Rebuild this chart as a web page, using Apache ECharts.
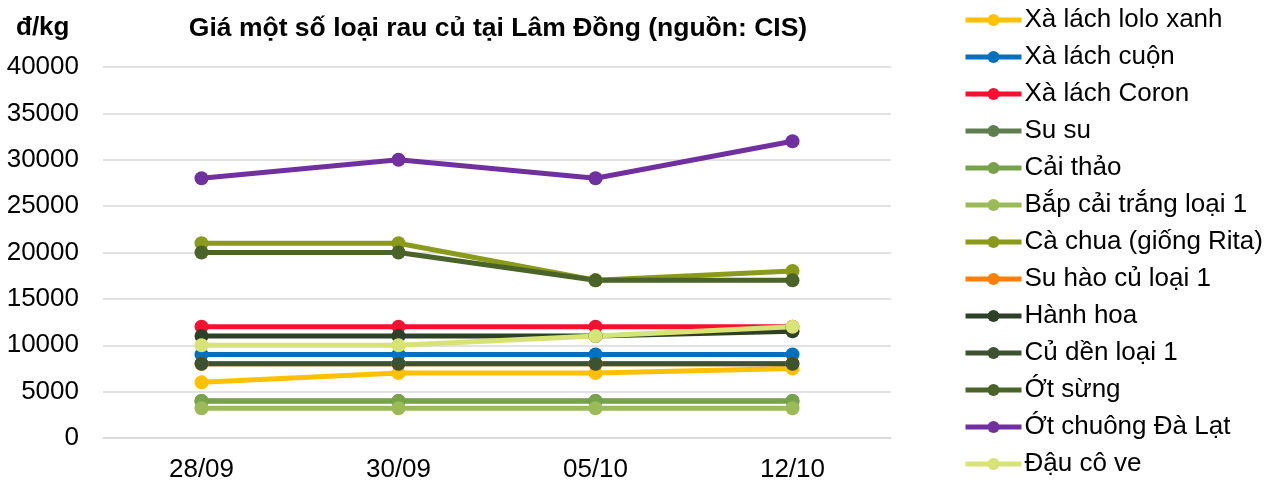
<!DOCTYPE html>
<html>
<head>
    <meta charset="utf-8">
    <title>Giá rau củ Lâm Đồng</title>
    <script src="https://cdn.jsdelivr.net/npm/echarts@6/dist/echarts.min.js"></script>
    <style>
        html, body { margin: 0; padding: 0; background: #fff; }
    </style>
</head>
<body>
<div id="main" style="width: 1281px;height:483px;"></div>

<script type="text/javascript">
    var dates = ['28/09', '30/09', '05/10', '12/10'];

    var names = ['Xà lách lolo xanh', 'Xà lách cuộn', 'Xà lách Coron', 'Su su', 'Cải thảo',
        'Bắp cải trắng loại 1', 'Cà chua (giống Rita)', 'Su hào củ loại 1', 'Hành hoa',
        'Củ dền loại 1', 'Ớt sừng', 'Ớt chuông Đà Lạt', 'Đậu cô ve'];

    var xaLachLolo = [6000, 7000, 7000, 7500];
    var xaLachCuon = [9000, 9000, 9000, 9000];
    var xaLachCoron = [12000, 12000, 12000, 12000];
    var suSu = [4000, 4000, 4000, 4000];
    var caiThao = [4000, 4000, 4000, 4000];
    var bapCai = [3200, 3200, 3200, 3200];
    var caChua = [21000, 21000, 17000, 18000];
    var suHao = [8000, 8000, 8000, 8000];
    var hanhHoa = [11000, 11000, 11000, 11500];
    var cuDen = [8000, 8000, 8000, 8000];
    var otSung = [20000, 20000, 17000, 17000];
    var otChuong = [28000, 30000, 28000, 32000];
    var dauCoVe = [10000, 10000, 11000, 12000];

    var values = [xaLachLolo, xaLachCuon, xaLachCoron, suSu, caiThao, bapCai, caChua,
        suHao, hanhHoa, cuDen, otSung, otChuong, dauCoVe];

    var colors = ['#FFC000', '#0070C0', '#F5112F', '#5F7E50', '#76A34A', '#9BBB59', '#8A9A1B',
        '#FF8000', '#2E4027', '#3C5231', '#4A6328', '#7030A0', '#D7E374'];

    var font = 'Liberation Sans, Arial, sans-serif';

    var series = [];
    for (var i = 0; i < names.length; i++) {
        series.push({
            name: names[i],
            type: 'line',
            data: values[i],
            symbol: 'circle',
            symbolSize: 14,
            lineStyle: { width: 5, color: colors[i] },
            itemStyle: { color: colors[i] }
        });
    }

    var chart = echarts.init(document.getElementById('main'));

    var option = {
        animation: false,
        color: colors,
        title: [
            {
                text: 'Giá một số loại rau củ tại Lâm Đồng (nguồn: CIS)',
                left: 493,
                textAlign: 'center',
                top: 10,
                textStyle: { fontFamily: font, fontSize: 26.5, fontWeight: 'bold', color: '#000' }
            },
            {
                text: 'đ/kg',
                left: 11,
                top: 10,
                textStyle: { fontFamily: font, fontSize: 26, fontWeight: 'bold', color: '#000' }
            }
        ],
        legend: {
            orient: 'vertical',
            left: 963,
            top: 7,
            padding: 0,
            itemWidth: 56,
            itemHeight: 15,
            itemGap: 11,
            lineStyle: { width: 5 },
            textStyle: { fontFamily: font, fontSize: 26, color: '#000', padding: [0, 0, 0, -2] },
            data: names
        },
        grid: {
            left: 103,
            right: 390,
            top: 67,
            bottom: 43,
            containLabel: false
        },
        xAxis: {
            type: 'category',
            data: dates,
            boundaryGap: true,
            axisLine: { show: true, lineStyle: { color: '#D9D9D9', width: 1.5 } },
            axisTick: { show: false },
            axisLabel: { fontFamily: font, fontSize: 26, color: '#000', margin: 19 }
        },
        yAxis: {
            type: 'value',
            min: 0,
            max: 40000,
            interval: 5000,
            axisLine: { show: false },
            axisTick: { show: false },
            splitLine: { lineStyle: { color: '#D9D9D9', width: 1.5 } },
            axisLabel: {
                fontFamily: font, fontSize: 26, color: '#000', margin: 24,
                formatter: function (v) { return String(v); }
            }
        },
        series: series
    };

    chart.setOption(option);
</script>
</body>
</html>
